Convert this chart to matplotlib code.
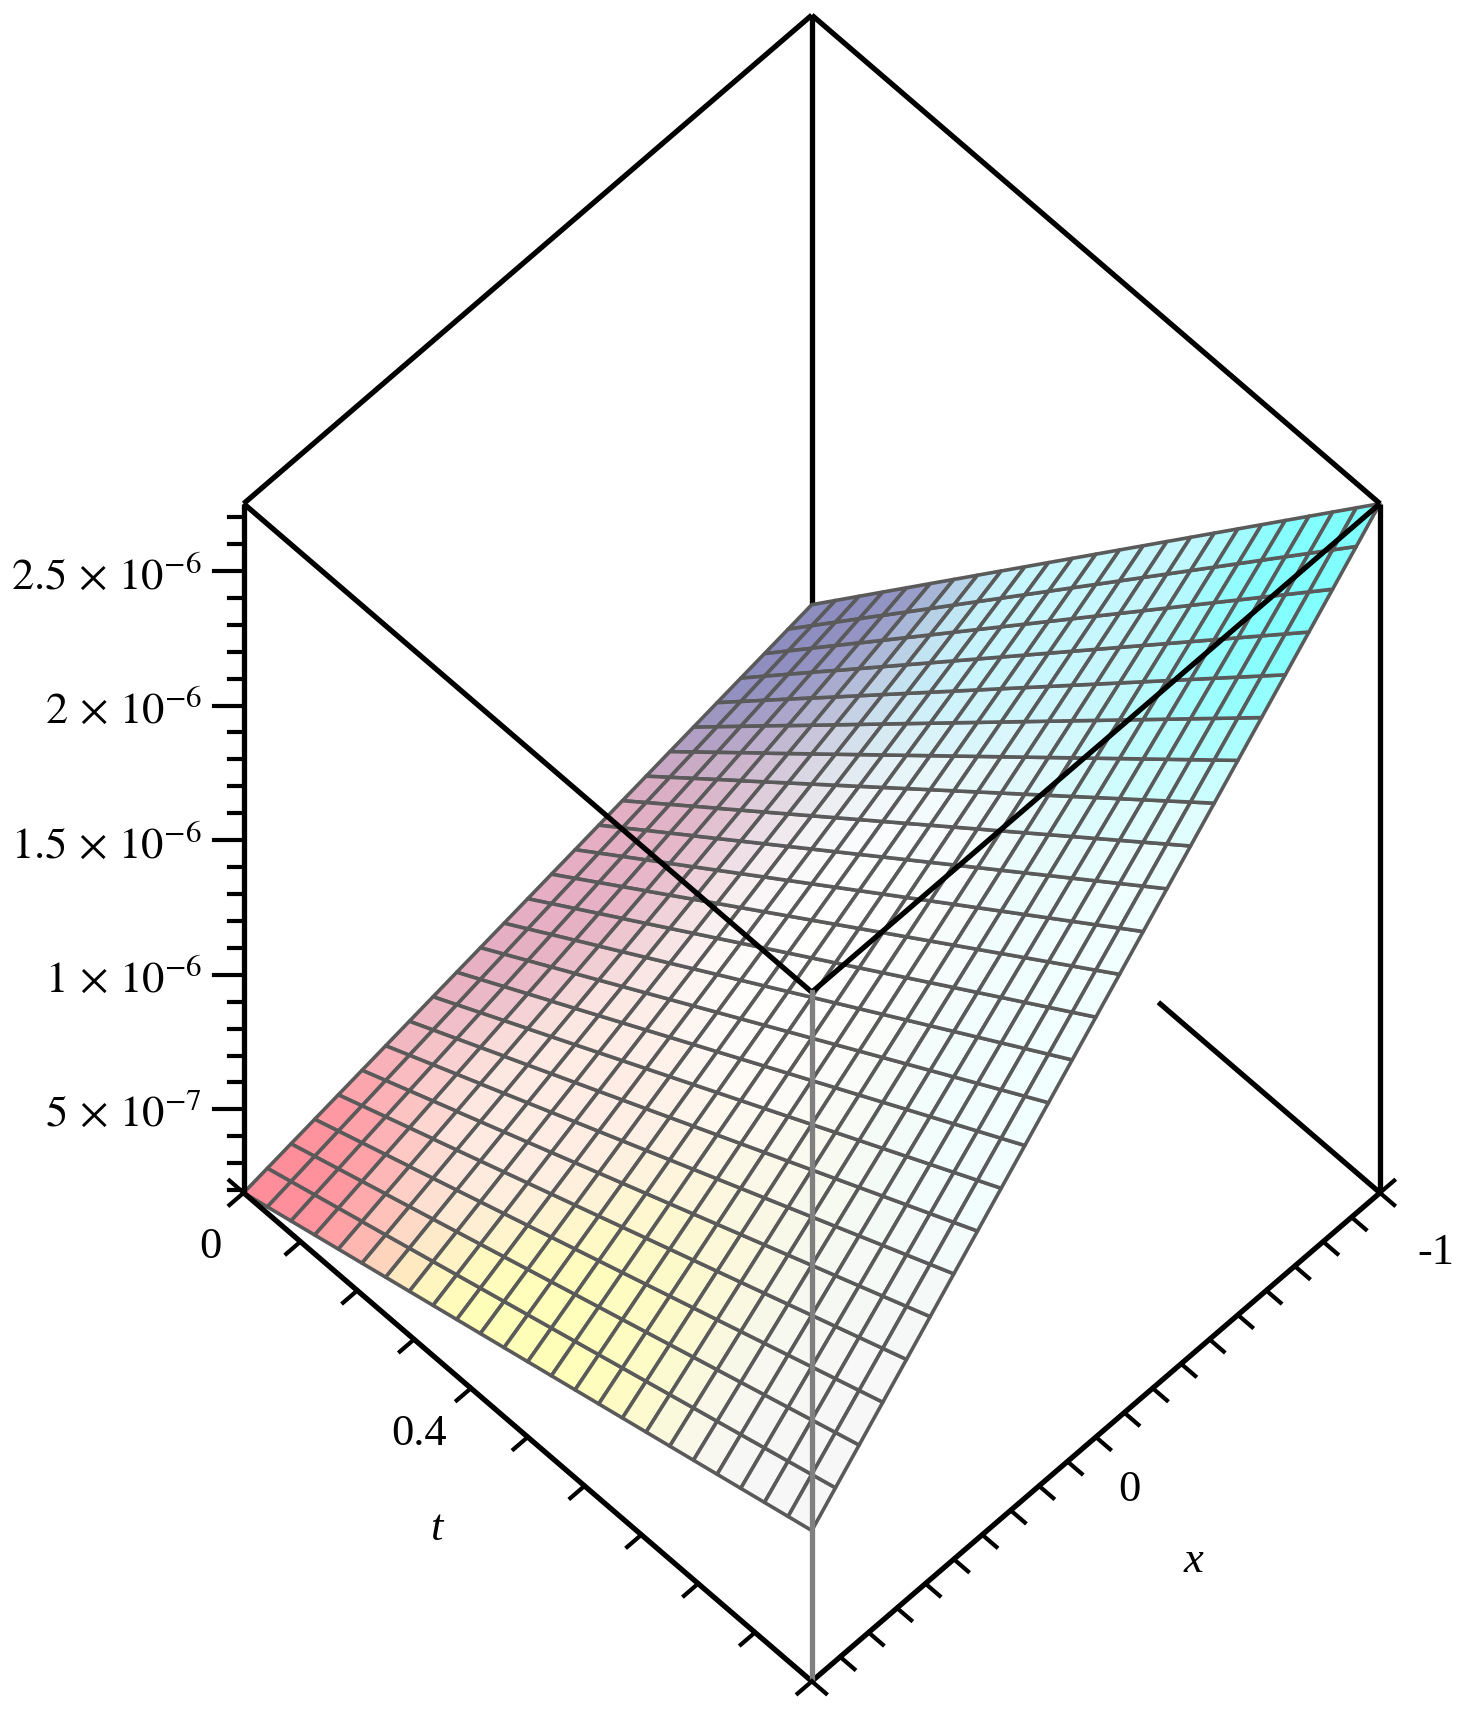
import numpy as np
import matplotlib
matplotlib.use("Agg")
import matplotlib.pyplot as plt
from mpl_toolkits.mplot3d import proj3d

plt.rcParams['font.family'] = ['Liberation Serif', 'DejaVu Serif']
plt.rcParams['mathtext.fontset'] = 'stix'

# ---- data ----
x_range = [-1.0, 1.0]
t_range = [0.0, 1.0]
n_grid = 25
# surface values at the four corners (t, x)
u_t0_x1 = 0.19e-6
u_t0_xm1 = 0.56e-6
u_t1_x1 = 0.75e-6
u_t1_xm1 = 2.75e-6
z_range = [0.19e-6, 2.75e-6]
z_ticks = [5e-7, 1e-6, 1.5e-6, 2e-6, 2.5e-6]
z_labels = [r'$5\,\times\,10^{-7}$', r'$1\,\times\,10^{-6}$', r'$1.5\,\times\,10^{-6}$',
            r'$2\,\times\,10^{-6}$', r'$2.5\,\times\,10^{-6}$']
t_labels = {0.0: '0', 0.4: '0.4'}
x_labels = {0.0: '0', -1.0: '-1'}

xs = np.linspace(x_range[0], x_range[1], n_grid)
ts = np.linspace(t_range[0], t_range[1], n_grid)
X, T = np.meshgrid(xs, ts)
S = (1 - X) / 2
U = (u_t0_x1 * (1 - T) * (1 - S) + u_t0_xm1 * (1 - T) * S
     + u_t1_x1 * T * (1 - S) + u_t1_xm1 * T * S)

# colours: anchor blend
anchors = [((0.0, 1.0), (1.0, 0.55, 0.60)),
           ((0.45, 1.0), (1.0, 1.0, 0.72)),
           ((1.0, 1.0), (0.97, 0.97, 0.97)),
           ((0.0, -1.0), (0.55, 0.55, 0.75)),
           ((1.0, -1.0), (0.50, 1.0, 1.0)),
           ((0.0, 0.0), (0.90, 0.68, 0.76)),
           ((0.5, 0.0), (1.0, 1.0, 1.0)),
           ((1.0, 0.0), (0.95, 1.0, 1.0)),
           ((0.5, -1.0), (0.78, 0.97, 1.0)),
           ((0.3, 0.5), (1.0, 0.93, 0.90))]
Tc = (T[:-1, :-1] + T[1:, 1:]) / 2
Xc = (X[:-1, :-1] + X[1:, 1:]) / 2
W = np.zeros(Tc.shape)
C = np.zeros(Tc.shape + (3,))
for (ta, xa), col in anchors:
    d2 = (Tc - ta) ** 2 + ((Xc - xa) / 2) ** 2
    w = 1.0 / (d2 + 0.01) ** 2
    W += w
    C += w[..., None] * np.array(col)
C = C / W[..., None]
FC = np.concatenate([C, np.full(Tc.shape + (1,), 1.0)], axis=-1)

fig = plt.figure(figsize=(14.64, 17.36), dpi=100)
ax = fig.add_axes([0.041, 0.0, 1.0, 1.0], projection='3d', proj_type='ortho')
ax.computed_zorder = False
ax.view_init(elev=59.3, azim=45)
ax.set_box_aspect((1, 1, 1.68), zoom=1.17)
ax.set_xlim(*x_range)
ax.set_ylim(*t_range)
ax.set_zlim(*z_range)
ax.set_axis_off()

z0, z1 = z_range
k = dict(color='black', lw=3.8, solid_capstyle='butt', clip_on=False)
# back edges (below surface)
ax.plot([-1, -1], [0, 0], [u_t0_xm1, z1], zorder=1, **k)
ax.plot([-1, -1], [0.61, 1], [z0, z0], zorder=1, **k)

surf = ax.plot_surface(X, T, U, facecolors=FC, edgecolor='#5a5a5a', linewidth=2.6,
                       shade=False, rstride=1, cstride=1, antialiased=True, zorder=2)
surf.set_clip_on(False)

# front/top edges
ax.plot([-1, 1], [0, 0], [z1, z1], zorder=5, **k)
ax.plot([-1, -1], [0, 1], [z1, z1], zorder=5, **k)
ax.plot([1, 1], [0, 1], [z1, z1], zorder=5, **k)
ax.plot([-1, 1], [1, 1], [z1, z1], zorder=5, **k)
ax.plot([1, 1], [0, 0], [z0, z1], zorder=5, **k)
ax.plot([-1, -1], [1, 1], [z0, z1], zorder=5, **k)
ax.plot([1, 1], [0, 1], [z0, z0], zorder=5, **k)
ax.plot([-1, 1], [1, 1], [z0, z0], zorder=5, **k)
ax.plot([1, 1], [1, 1], [z0, z1], zorder=5, color='#808080', lw=3.8, clip_on=False)

kt = dict(color='black', lw=3.0, zorder=6, clip_on=False)
# z ticks (pointing left)
for i, zv in enumerate(np.arange(2e-7, z1 + 1e-9, 1e-7)):
    f = 0.026 if abs(zv / 5e-7 - round(zv / 5e-7)) < 1e-3 else 0.013
    ax.plot([1, 1 + 2 * f], [0, -f], [zv, zv], **kt)
# t ticks
for tv in np.arange(0, 1.0001, 0.1):
    ax.plot([1, 1.05], [tv, tv], [z0, z0], **kt)
# x ticks
for xv in np.arange(-1, 1.0001, 0.1):
    ax.plot([xv, xv], [1, 1.025], [z0, z0], **kt)
ax.plot([-1, -1.05], [1, 1], [z0, z0], **kt)
ax.plot([1, 1], [0, -0.025], [z0, z0], **kt)

fig.canvas.draw()
M = ax.get_proj()


def lab(x, t, z, s, dx, dy, **kw):
    px, py, _ = proj3d.proj_transform(x, t, z, M)
    ax.annotate(s, xy=(px, py), xycoords='data', xytext=(dx, dy),
                textcoords='offset points', fontsize=kw.pop('fontsize', 32),
                annotation_clip=False, **kw)


for zv, s in zip(z_ticks, z_labels):
    lab(1, 0, zv, s, -30, -4, ha='right', va='center')
for tv, s in t_labels.items():
    if tv == 0:
        lab(1, tv, z0, s, -24, -39, ha='center', va='center')
    else:
        lab(1, tv, z0, s, -37, -33, ha='center', va='center')
lab(1, 0.5, z0, 't', -66, -66, ha='center', va='center', style='italic')
lab(0.0, 1, z0, '0', 24, -38, ha='center', va='center')
lab(-1.0, 1, z0, '-1', 40, -43, ha='center', va='center')
lab(0.0, 1, z0, 'x', 70, -89, ha='center', va='center', style='italic')

fig.savefig('out.png', dpi=100)
